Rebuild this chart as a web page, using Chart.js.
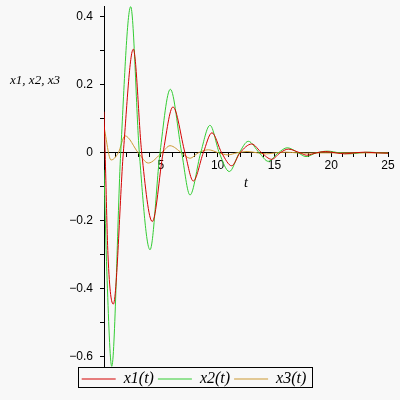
<!DOCTYPE html>
<html>
<head>
<meta charset="utf-8">
<script src="https://cdn.jsdelivr.net/npm/chart.js@4.4.0/dist/chart.umd.min.js"></script>
<style>
html, body { margin: 0; padding: 0; background: #f8f8f8; }
</style>
</head>
<body>
<canvas id="plot" width="400" height="400"></canvas>
<script>
// x1(t) - red
var x1T = [0, 0.1, 0.35, 0.82, 1.7, 2.58, 3.32, 4.25, 5.2, 6.07, 7.13, 7.86, 8.74, 9.5, 10.36, 11.24, 11.97, 13.0, 13.88, 14.76, 15.5, 16.22, 17.25, 17.84, 18.7, 19.5, 20.4, 21.2, 22.1, 23.0, 24.0, 25];
var x1V = [0.121, 0, -0.3, -0.445, 0, 0.305, 0, -0.202, 0, 0.135, 0, -0.083, 0, 0.059, 0, -0.038, 0, 0.026, 0, -0.019, 0, 0.011, 0, -0.007, 0, 0.004, 0, -0.003, 0, 0.002, 0, -0.001];
// x2(t) - green
var x2T = [0, 0.25, 0.68, 1.47, 2.35, 3.11, 4.05, 4.93, 5.84, 6.84, 7.57, 8.51, 9.33, 10.15, 11.03, 11.91, 12.7, 13.67, 14.46, 15.34, 16.14, 17.1, 17.78, 18.7, 19.7, 20.7, 21.6, 22.5, 23.4, 24.3, 25];
var x2V = [-0.05, -0.35, -0.628, 0, 0.43, 0, -0.285, 0, 0.187, 0, -0.124, 0, 0.081, 0, -0.055, 0, 0.034, 0, -0.025, 0, 0.015, 0, -0.011, 0, 0.005, 0, -0.003, 0, 0.002, 0, -0.001];
// x3(t) - orange
var x3T = [0, 0.62, 1.26, 1.85, 3.02, 3.9, 5.08, 5.81, 6.84, 7.57, 8.3, 9.18, 10.1, 10.9, 11.7, 12.6, 13.5, 14.3, 15.1, 16.0, 17.0, 17.8, 19, 25];
var x3V = [0.077, -0.021, 0, 0.05, 0, -0.030, 0, 0.021, 0, -0.016, 0, 0.009, 0, -0.006, 0, 0.004, 0, -0.003, 0, 0.002, 0, -0.001, 0, 0];

var xLabels = [5, 10, 15, 20, 25];
var yLabels = [-0.6, -0.4, -0.2, 0, 0.2, 0.4];

function pts(ts, vs) {
    return ts.map(function(t, i) { return {x: t, y: vs[i]}; });
}

// рамка легенды и подписи осей
var extras = {
    id: 'extras',
    afterDraw: function(chart) {
        var ctx = chart.ctx;
        var lg = chart.legend;
        var hb = lg.legendHitBoxes;
        var l = hb[0].left;
        var last = hb[hb.length - 1];
        var r = last.left + last.width;
        var area = chart.chartArea;
        ctx.save();
        ctx.strokeStyle = '#000';
        ctx.lineWidth = 1;
        ctx.strokeRect(Math.round(l - 4) + 0.5, Math.round(area.bottom) + 0.5, Math.round(r - l + 9), 20);
        ctx.fillStyle = '#000';
        ctx.textAlign = 'center';
        ctx.textBaseline = 'middle';
        ctx.font = 'italic 13px "Liberation Serif"';
        ctx.fillText('x1, x2, x3', 35, area.top + 75);
        ctx.font = 'italic 14px "Liberation Serif"';
        ctx.fillText('t', (area.left + area.right) / 2, chart.scales.y.getPixelForValue(0) + 30);
        ctx.restore();
    }
};

var ctx = document.getElementById('plot').getContext('2d');
var chart = new Chart(ctx, {
    type: 'line',
    data: {
        datasets: [
            { label: 'x1(t)', data: pts(x1T, x1V), borderColor: '#d40000', backgroundColor: '#d40000' },
            { label: 'x2(t)', data: pts(x2T, x2V), borderColor: '#33cc33', backgroundColor: '#33cc33' },
            { label: 'x3(t)', data: pts(x3T, x3V), borderColor: '#cc9933', backgroundColor: '#cc9933' }
        ]
    },
    options: {
        responsive: false,
        animation: false,
        layout: { padding: { left: 0, right: 12, top: 6, bottom: 3 } },
        elements: {
            point: { radius: 0 },
            line: { borderWidth: 1, cubicInterpolationMode: 'monotone', fill: false }
        },
        plugins: {
            tooltip: { enabled: false },
            legend: {
                position: 'bottom',
                labels: {
                    usePointStyle: true,
                    pointStyle: 'line',
                    pointStyleWidth: 34,
                    padding: 4,
                    color: '#000',
                    font: { family: '"Liberation Serif"', style: 'italic', size: 16 }
                }
            }
        },
        scales: {
            x: {
                type: 'linear',
                min: 0,
                max: 25,
                position: { y: 0 },
                afterFit: function(scale) {
                    scale.height = 0;
                    scale.paddingLeft = 0;
                    scale.paddingRight = 0;
                },
                border: { display: true, color: '#000', width: 1 },
                grid: { drawOnChartArea: false, drawTicks: true, tickLength: 4, color: '#000' },
                ticks: {
                    stepSize: 1,
                    autoSkip: false,
                    maxRotation: 0,
                    padding: 2,
                    color: '#000',
                    font: { family: '"Liberation Sans"', size: 12 },
                    callback: function(value) {
                        return xLabels.indexOf(value) >= 0 ? String(value) : '';
                    }
                }
            },
            y: {
                type: 'linear',
                min: -0.63,
                max: 0.432,
                position: 'left',
                afterFit: function(scale) {
                    scale.width = 104;
                    scale.paddingTop = 0;
                    scale.paddingBottom = 0;
                },
                border: { display: true, color: '#000', width: 1 },
                grid: { drawOnChartArea: false, drawTicks: true, tickLength: 4, color: '#000' },
                ticks: {
                    stepSize: 0.1,
                    includeBounds: false,
                    padding: 7,
                    color: '#000',
                    font: { family: '"Liberation Sans"', size: 12 },
                    callback: function(value) {
                        for (var i = 0; i < yLabels.length; i++) {
                            if (Math.abs(value - yLabels[i]) < 1e-6) {
                                var v = yLabels[i];
                                return v === 0 ? '0' : (v < 0 ? '\u2212' : '') + Math.abs(v);
                            }
                        }
                        return '';
                    }
                }
            }
        }
    },
    plugins: [extras]
});
</script>
</body>
</html>
